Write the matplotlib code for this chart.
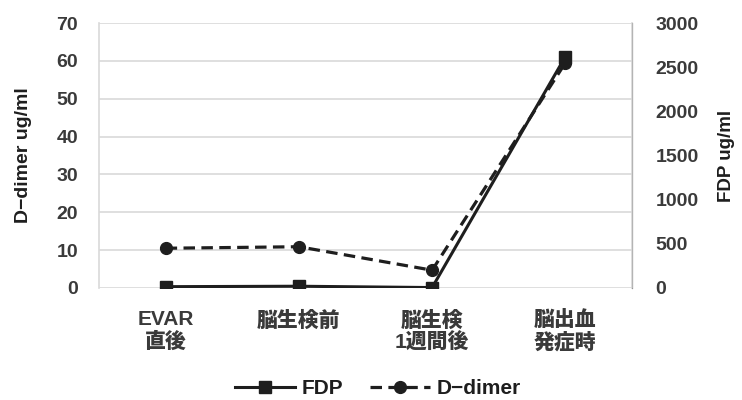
import matplotlib.pyplot as plt

plt.rcParams['font.family'] = ['Liberation Sans', 'Noto Sans CJK JP', 'DejaVu Sans']
plt.rcParams['font.weight'] = 'bold'
plt.rcParams['axes.labelweight'] = 'bold'

# data
categories = ['EVAR\n直後', '脳生検前', '脳生検\n1週間後', '脳出血\n発症時']
ddimer = [10.5, 10.9, 4.7, 59.5]          # left axis, ug/ml
fdp = [15, 20, 5, 2620]                   # right axis, ug/ml
left_ticks = [0, 10, 20, 30, 40, 50, 60, 70]
right_ticks = [0, 500, 1000, 1500, 2000, 2500, 3000]

ink = '#1e1e1e'
txt = '#3a3a3a'
grid = '#d9d9d9'

fig = plt.figure(figsize=(7.42, 4.0), dpi=100)
ax = fig.add_axes([0.1334, 0.28, 0.7184, 0.6625])
ax2 = ax.twinx()

x = list(range(len(categories)))

# gridlines and frame
ax.set_ylim(0, 70)
ax.set_yticks(left_ticks)
ax.yaxis.grid(True, color=grid, linewidth=1.2)
ax.set_axisbelow(True)
ax.set_xlim(-0.5, 3.5)
for s in ['top', 'bottom']:
    ax.spines[s].set_visible(False)
    ax2.spines[s].set_visible(False)
ax.spines['left'].set_color(grid)
ax.spines['left'].set_linewidth(1.2)
ax2.spines['left'].set_visible(False)
ax2.spines['right'].set_color(grid)
ax2.spines['right'].set_linewidth(1.2)

l2, = ax.plot(x, ddimer, color=ink, linestyle=(0, (3.6, 2.0)), linewidth=2.3,
              marker='o', markersize=8.5, label='D−dimer', zorder=3)
ax2.set_ylim(0, 3000)
ax2.set_yticks(right_ticks)
l1, = ax2.plot(x, fdp, color=ink, linestyle='-', linewidth=2.2,
               marker='s', markersize=8, label='FDP', zorder=4)

ax.set_xticks(x)
ax.set_xticklabels(categories, fontsize=15, color=txt, linespacing=1.15,
                   fontweight='heavy')
ax.tick_params(axis='x', length=0, pad=16)
ax.tick_params(axis='y', length=0, pad=15, labelsize=14, labelcolor=txt)
ax2.tick_params(axis='y', length=0, pad=17, labelsize=14, labelcolor=txt)

ax.set_ylabel('D−dimer ug/ml', fontsize=14, color=ink, labelpad=18)
ax2.set_ylabel('FDP ug/ml', fontsize=13.5, color=ink, labelpad=14)

fig.legend(handles=[l1, l2], loc='center', bbox_to_anchor=(0.509, 0.028),
           ncol=2, frameon=False, fontsize=15, handlelength=2.9,
           columnspacing=1.3, handletextpad=0.3, labelcolor=ink)

fig.savefig('out.png', dpi=100)
